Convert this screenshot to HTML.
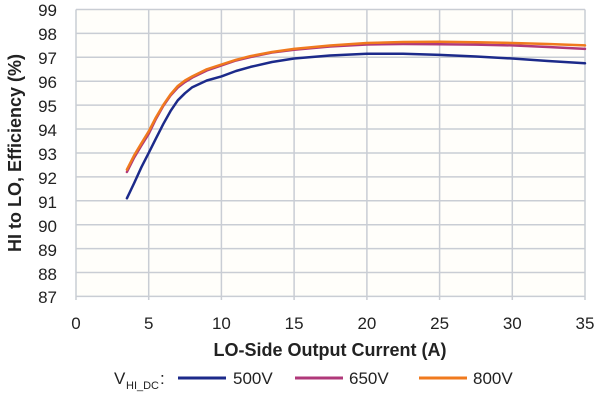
<!DOCTYPE html>
<html><head><style>body{margin:0;background:#fff}</style></head><body>
<svg width="600" height="400" xmlns="http://www.w3.org/2000/svg" font-family="Liberation Sans, sans-serif">
<rect x="76" y="9.5" width="509" height="287" fill="#fffefa"/>
<g stroke="#c9cdd4" stroke-width="1.5">
<line x1="76" x2="585" y1="9.5" y2="9.5"/><line x1="76" x2="585" y1="33.4" y2="33.4"/><line x1="76" x2="585" y1="57.3" y2="57.3"/><line x1="76" x2="585" y1="81.2" y2="81.2"/><line x1="76" x2="585" y1="105.1" y2="105.1"/><line x1="76" x2="585" y1="129" y2="129"/><line x1="76" x2="585" y1="153" y2="153"/><line x1="76" x2="585" y1="176.9" y2="176.9"/><line x1="76" x2="585" y1="200.8" y2="200.8"/><line x1="76" x2="585" y1="224.7" y2="224.7"/><line x1="76" x2="585" y1="248.6" y2="248.6"/><line x1="76" x2="585" y1="272.5" y2="272.5"/><line x1="76" x2="585" y1="296.4" y2="296.4"/>
<line y1="9.5" y2="300" x1="76" x2="76"/><line y1="9.5" y2="300" x1="148.7" x2="148.7"/><line y1="9.5" y2="300" x1="221.4" x2="221.4"/><line y1="9.5" y2="300" x1="294.1" x2="294.1"/><line y1="9.5" y2="300" x1="366.9" x2="366.9"/><line y1="9.5" y2="300" x1="439.6" x2="439.6"/><line y1="9.5" y2="300" x1="512.3" x2="512.3"/><line y1="9.5" y2="300" x1="585" x2="585"/>
</g>
<g font-size="17" fill="#222" text-anchor="end">
<text x="57" y="16">99</text><text x="57" y="40">98</text><text x="57" y="64">97</text><text x="57" y="88">96</text><text x="57" y="112">95</text><text x="57" y="136">94</text><text x="57" y="160">93</text><text x="57" y="184">92</text><text x="57" y="208">91</text><text x="57" y="232">90</text><text x="57" y="256">89</text><text x="57" y="280">88</text><text x="57" y="303">87</text>
</g>
<g font-size="17" fill="#222" text-anchor="middle">
<text x="76" y="329">0</text><text x="148.7" y="329">5</text><text x="221.4" y="329">10</text><text x="294.1" y="329">15</text><text x="366.9" y="329">20</text><text x="439.6" y="329">25</text><text x="512.3" y="329">30</text><text x="585" y="329">35</text>
<text x="330" y="356" font-weight="bold" font-size="18">LO-Side Output Current (A)</text>
<text transform="translate(21,153) rotate(-90)" font-weight="bold" font-size="18">HI to LO, Efficiency (%)</text>
</g>
<g fill="none" stroke-width="2.5" stroke-linejoin="round" stroke-linecap="round">
<polyline stroke="#1c2a8a" points="126.9,198.3 134.2,183 141.4,167.2 148.7,152.9 155.9,138.6 163.2,124.2 170.5,111.1 177.8,100.3 185,93.2 192.3,87.2 206.8,80.5 221.4,76.4 236,71 250.5,66.9 272,62 294.1,58.5 330,55.5 366.9,53.7 403,53.7 439.6,54.9 476,56.5 512.3,58.5 548,61 585,63.3"/>
<polyline stroke="#b0387a" points="126.9,172 134.2,157.5 141.4,145.5 148.7,133.8 155.9,119 163.2,106 170.5,95.5 177.8,87.5 185,82 192.3,77.5 206.8,70.5 221.4,65.5 236,60.5 250.5,57 272,52.5 294.1,49.8 330,46.5 366.9,44.5 403,44 439.6,44.2 476,44.6 512.3,45.4 548,47 585,48.9"/>
<polyline stroke="#f07a1e" points="126.9,169.6 134.2,155.3 141.4,143.3 148.7,131.4 155.9,117.5 163.2,105.1 170.5,94.5 177.8,86 185,80.5 192.3,76.4 206.8,69.3 221.4,64.5 236,59.8 250.5,56.1 272,52 294.1,48.9 330,45.5 366.9,43 403,42 439.6,41.8 476,42.2 512.3,43 548,44 585,45.4"/>
</g>
<g font-size="17" fill="#222">
<text x="114" y="384">V</text><text x="126" y="389" font-size="11">HI_DC</text><text x="160" y="384">:</text>
<line x1="178" x2="226" y1="378" y2="378" stroke="#1c2a8a" stroke-width="3"/><text x="233" y="384">500V</text>
<line x1="295" x2="343" y1="378" y2="378" stroke="#b0387a" stroke-width="3"/><text x="349" y="384">650V</text>
<line x1="419" x2="467" y1="378" y2="378" stroke="#f07a1e" stroke-width="3"/><text x="473" y="384">800V</text>
</g>
</svg>
</body></html>
